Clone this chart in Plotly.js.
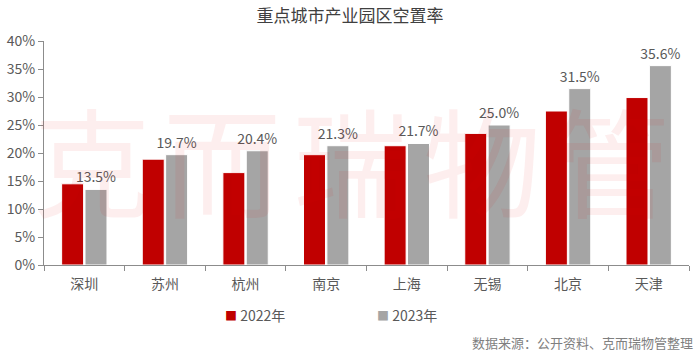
<!DOCTYPE html>
<html><head><meta charset="utf-8">
<script src="https://cdn.plot.ly/plotly-3.0.1.min.js"></script>
<style>body{margin:0;background:#fff}#chart{width:700px;height:353px}</style>
</head><body><div id="chart"></div>
<script>
const cities = ["深圳","苏州","杭州","南京","上海","无锡","北京","天津"];
const v2022 = [14.5,18.9,16.5,19.7,21.3,23.5,27.5,29.9];
const v2023 = [13.5,19.7,20.4,21.3,21.7,25.0,31.5,35.6];
const labels2023 = ["13.5%","19.7%","20.4%","21.3%","21.7%","25.0%","31.5%","35.6%"];
const seriesNames = ["2022年","2023年"];
const seriesColors = ["#C00000","#A5A5A5"];
const watermark = ["克","而","瑞","物","管"];

const font = "Noto Sans CJK SC, Noto Sans, sans-serif";
const traces = [
  {type:"bar", name:seriesNames[0], x:cities, y:v2022, marker:{color:seriesColors[0], line:{color:"#ffffff", width:1}}, hoverinfo:"none"},
  {type:"bar", name:seriesNames[1], x:cities, y:v2023, marker:{color:seriesColors[1], line:{color:"#ffffff", width:1}},
   text:labels2023, textposition:"outside", constraintext:"none", cliponaxis:false,
   textfont:{size:14, color:"#595959", family:font}, hoverinfo:"none"}
];
const wmAnn = watermark.map((c,i)=>({text:c, xref:"paper", yref:"paper", x:0.074+i*0.2016, y:0.478, xanchor:"center", yanchor:"middle",
  showarrow:false, font:{size:118, color:"rgba(230,0,0,0.065)", family:font}}));
const legendX = [223, 375];
const legAnn = seriesNames.map((n,i)=>({text:'<span style="color:'+seriesColors[i]+';font-size:12px">■</span> '+n,
  xref:"paper", yref:"paper", x:(legendX[i]-44)/645, y:(265-315)/224, xanchor:"left", yanchor:"middle",
  showarrow:false, font:{size:14, color:"#595959", family:font}}));
const layout = {
  width:700, height:353,
  margin:{l:44, r:11, t:41, b:88, autoexpand:false},
  paper_bgcolor:"#fff", plot_bgcolor:"rgba(0,0,0,0)",
  font:{family:font, color:"#595959"},
  title:{text:"重点城市产业园区空置率", x:0.5, xanchor:"center", y:0.955, yanchor:"middle", font:{size:17, color:"#404040", family:font}},
  barmode:"group", bargap:0.42, bargroupgap:0.06,
  xaxis:{showline:true, linecolor:"#8c8c8c", ticks:"outside", tickson:"boundaries", ticklen:5, tickcolor:"#8c8c8c",
    ticklabelstandoff:6, tickfont:{size:14, color:"#595959"}, showgrid:false, fixedrange:true, automargin:false},
  yaxis:{range:[0,40], dtick:5, ticksuffix:"%", showline:true, linecolor:"#8c8c8c", ticks:"outside", ticklen:5, tickcolor:"#8c8c8c",
    showgrid:false, zeroline:false, tickfont:{size:14, color:"#595959"}, fixedrange:true, automargin:false},
  showlegend:false,
  annotations:[...wmAnn, ...legAnn,
    {text:"数据来源：公开资料、克而瑞物管整理", xref:"paper", yref:"paper", x:1.01, y:(265-342)/224, xanchor:"right", yanchor:"middle",
     showarrow:false, font:{size:13, color:"#7f7f7f", family:font}}]
};
Plotly.newPlot("chart", traces, layout, {displayModeBar:false, staticPlot:true});
</script></body></html>
